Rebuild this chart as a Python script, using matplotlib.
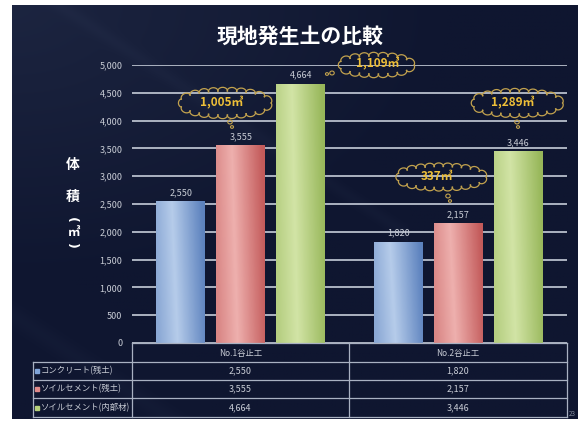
import numpy as np
import matplotlib
matplotlib.use("Agg")
import matplotlib.pyplot as plt
from matplotlib import colors as mcolors
from matplotlib.patches import Arc, Ellipse, Rectangle

plt.rcParams['font.family'] = ['Noto Sans CJK JP', 'DejaVu Sans']

# ---------------- data ----------------
categories = ["No.1谷止工", "No.2谷止工"]
series_names = ["コンクリート(残土)", "ソイルセメント(残土)", "ソイルセメント(内部材)"]
concrete = [2550, 1820]
soil_zando = [3555, 2157]
soil_naibu = [4664, 3446]
yticks = list(range(0, 5001, 500))
# callouts: text, anchor (image px), size (px)
callouts = [
    ("1,005㎥", (225, 103), (100, 32), (222, 103), [(230, 122), (232, 127)]),
    ("1,109㎥", (376, 65), (84, 26), (378, 64), [(332, 73), (327, 74)]),
    ("1,289㎥", (517, 103), (99, 30), (513, 103), [(517, 122), (518, 127)]),
    ("337㎥", (441, 177), (98, 29), (437, 177), [(448, 196), (450, 201)]),
]

W, H = 584, 424
BG = "#0f1630"
GOLD = "#c2a24e"
TXT = "#c9cdd6"
LINE = "#a9b1c2"

fig = plt.figure(figsize=(W / 100, H / 100), dpi=100, facecolor="white")

# ---------------- slide background ----------------
bg = fig.add_axes([12 / W, (H - 419) / H, 566 / W, 414 / H])
bg.set_axis_off()
yy, xx = np.mgrid[0:1:300j, 0:1:400j]
base = np.array(mcolors.to_rgb(BG))
lite = np.array(mcolors.to_rgb("#222b47"))
glow = np.clip(1.0 - np.hypot(xx * 1.3, yy * 1.5), 0, 1) * 0.7
streak = np.exp(-((yy - 0.15 - 0.9 * (xx - 0.25)) / 0.02) ** 2) * 0.2 * (xx < 0.7)
streak2 = np.exp(-((yy - 0.75 - 0.9 * (xx - 0.0)) / 0.03) ** 2) * 0.2 * (xx < 0.35)
mix = np.clip(glow + streak + streak2, 0, 1)[..., None]
img = base * (1 - mix) + lite * mix
bg.imshow(img, extent=[0, 1, 0, 1], aspect="auto", origin="upper")

# ---------------- main axes ----------------
ax = fig.add_axes([132 / W, (H - 343) / H, 435 / W, 278 / H])
ax.set_facecolor("none")
for s in ax.spines.values():
    s.set_visible(False)
ax.set_ylim(0, 5000)
ax.set_xlim(-0.5, 1.5)
ax.set_yticks(yticks)
ax.set_yticklabels([f"{v:,}" for v in yticks])
ax.set_xticks([])
ax.tick_params(axis="y", length=0, pad=7, labelsize=6.5, labelcolor=TXT)
ax.grid(True, axis="y", color="#b8bfcc", linewidth=1.3, zorder=0)
ax.set_axisbelow(True)

x = np.arange(len(categories))
bw, step = 0.225, 0.276
grads = [("#5a80bd", "#b6ccea"), ("#c25858", "#eeb0ae"), ("#96b658", "#d2e4a6")]


def gradient_img(dark, light):
    v, u = np.mgrid[0:1:60j, 0:1:40j]
    us = u - 0.12 * (v - 0.5)
    prof = np.interp(us, [-0.1, 0.0, 0.38, 1.0, 1.1], [0.5, 0.55, 1.0, 0.05, 0.0])
    d = np.array(mcolors.to_rgb(dark))
    l = np.array(mcolors.to_rgb(light))
    return d + (l - d) * prof[..., None]


for k, vals in enumerate([concrete, soil_zando, soil_naibu]):
    bars = ax.bar(x + (k - 1) * step, vals, width=bw, color=grads[k][0], zorder=2)
    g = gradient_img(*grads[k])
    for b, v in zip(bars, vals):
        im = ax.imshow(g, extent=[b.get_x(), b.get_x() + b.get_width(), 0, b.get_height()],
                       aspect="auto", zorder=3, origin="upper")
        im.set_clip_path(b)
        ax.annotate(f"{v:,}", (b.get_x() + b.get_width() / 2, v), xytext=(0, 3),
                    textcoords="offset points", ha="center", va="bottom",
                    fontsize=6.5, color=TXT, zorder=4)
ax.set_xlim(-0.5, 1.5)
ax.set_ylim(0, 5000)

# ---------------- overlay (pixel coords) ----------------
ov = fig.add_axes([0, 0, 1, 1])
ov.set_axis_off()
ov.set_xlim(0, W)
ov.set_ylim(0, H)
ov.patch.set_alpha(0)


def Y(y):
    return H - y


ov.text(300, Y(37), "現地発生土の比較", ha="center", va="center", fontsize=15,
        fontweight="bold", color="white")

# vertical y label: 体 / 積 / (㎥) with rotated brackets
for ch, xx_, yy_, fs, rot in [("体", 73, 165, 10, 0), ("積", 73, 197, 10, 0),
                              ("(", 71, 220, 9, -90), ("㎥", 74, 233, 9, 0),
                              (")", 71, 246, 9, -90)]:
    ov.text(xx_, Y(yy_), ch, ha="center", va="center", fontsize=fs, rotation=rot,
            fontweight="bold", color="white", family="DejaVu Sans" if rot else None)


def cloud(cx, cy, w, h, bump=4.2):
    a, b = w / 2 - bump, h / 2 - bump
    t = np.linspace(0, 2 * np.pi, 400)
    ex, ey = cx + a * np.cos(t), cy + b * np.sin(t)
    seg = np.hypot(np.diff(ex), np.diff(ey))
    cum = np.concatenate([[0], np.cumsum(seg)])
    n = max(8, int(round(cum[-1] / (2 * bump * 1.1))))
    s = np.linspace(0, cum[-1], n + 1)
    px, py = np.interp(s, cum, ex), np.interp(s, cum, ey)
    for i in range(n):
        mx, my = (px[i] + px[i + 1]) / 2, (py[i] + py[i + 1]) / 2
        dx, dy = px[i + 1] - px[i], py[i + 1] - py[i]
        d = np.hypot(dx, dy) * 1.05
        phi = np.degrees(np.arctan2(-dx, dy))
        ov.add_patch(Arc((mx, my), d, d * 0.8, angle=phi - 90, theta1=-5, theta2=185,
                         color=GOLD, lw=0.9))


for text, (cx, cy), (w, h), (tx, ty), tail in callouts:
    cloud(cx, Y(cy), w, h)
    ov.text(tx, Y(ty), text, ha="center", va="center", fontsize=8.5,
            fontweight="bold", color="#eebf38")
    for j, (qx, qy) in enumerate(tail):
        r = 2.8 - j * 0.9
        ov.add_patch(Ellipse((qx, Y(qy)), r * 1.6, r * 1.4, fill=False,
                             edgecolor=GOLD, lw=0.8))

# ---------------- data table ----------------
col_x = [33, 132, 349, 567]
row_y = [343, 362, 380, 398, 417]
ov.plot([132, 567], [Y(343)] * 2, color=LINE, lw=0.9)
for ry in row_y[1:]:
    ov.plot([33, 567], [Y(ry)] * 2, color=LINE, lw=0.9)
ov.plot([33, 33], [Y(362), Y(417)], color=LINE, lw=0.9)
for cx_ in col_x[1:]:
    ov.plot([cx_, cx_], [Y(343), Y(417)], color=LINE, lw=0.9)

centers = [(col_x[1] + col_x[2]) / 2, (col_x[2] + col_x[3]) / 2]
for c, name in zip(centers, categories):
    ov.text(c, Y(353), name, ha="center", va="center", fontsize=6, color=TXT)

sq_colors = ["#7fa3d8", "#e08a8a", "#b6d07a"]
for r, (name, vals) in enumerate(zip(series_names, [concrete, soil_zando, soil_naibu])):
    yc = (row_y[r + 1] + row_y[r + 2]) / 2
    ov.add_patch(Rectangle((35, Y(yc) - 2), 4, 4, color=sq_colors[r]))
    ov.text(41, Y(yc), name, ha="left", va="center", fontsize=6, color=TXT)
    for c, v in zip(centers, vals):
        ov.text(c, Y(yc), f"{v:,}", ha="center", va="center", fontsize=6.5, color=TXT)

ov.text(572, Y(414), "23", ha="center", va="center", fontsize=4.5, color="#8890a0")

fig.savefig("out.png", dpi=100, facecolor="white")
